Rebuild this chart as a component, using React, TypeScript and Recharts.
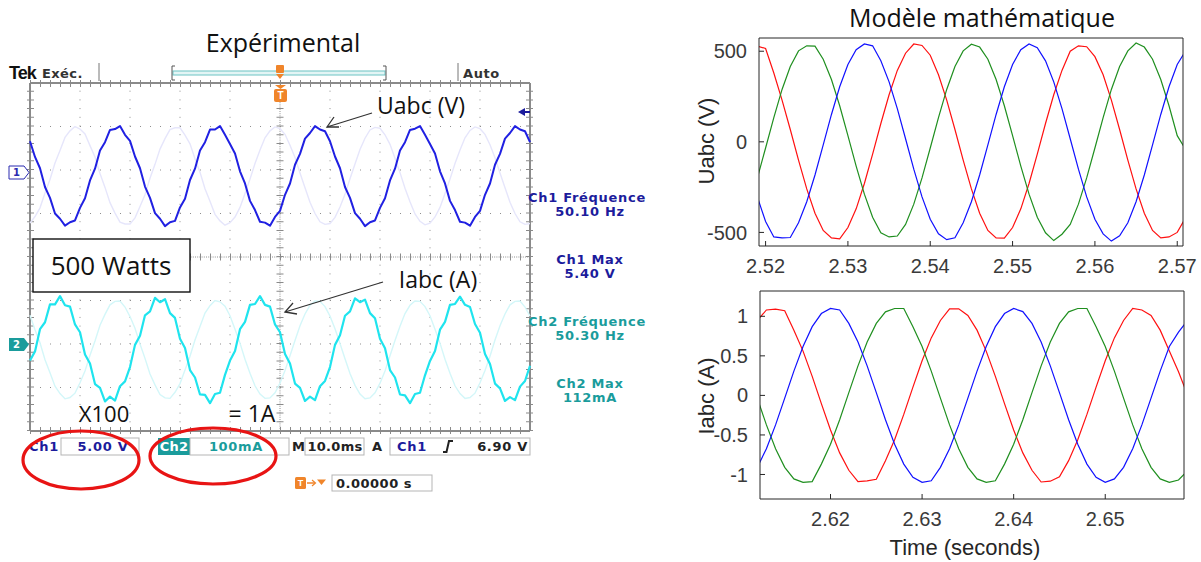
import React from 'react';
import { LineChart, Line, XAxis, YAxis, ReferenceLine } from 'recharts';

// ---------------- Oscilloscope (Expérimental) : 1 ms samples, values in screen divisions ----------------
const SCOPE_STEP_MS = 1;
const ch1Main = [
  2.66, 2.30, 2.04, 1.61, 1.36, 1.00, 0.88, 0.72, 0.80, 0.84, 1.13, 1.35, 1.76, 2.03, 2.45, 2.64, 2.92, 2.94, 3.01, 2.81,
  2.67, 2.31, 2.04, 1.62, 1.36, 1.01, 0.88, 0.71, 0.80, 0.83, 1.14, 1.34, 1.77, 2.03, 2.45, 2.64, 2.93, 2.93, 3.01, 2.81,
  2.60, 2.38, 1.97, 1.69, 1.29, 1.08, 0.81, 0.79, 0.72, 0.92, 1.06, 1.43, 1.69, 2.12, 2.37, 2.72, 2.85, 3.01, 2.93, 2.89,
  2.66, 2.31, 2.04, 1.61, 1.36, 1.01, 0.88, 0.71, 0.80, 0.84, 1.13, 1.35, 1.76, 2.03, 2.45, 2.64, 2.92, 2.95, 3.01, 2.81,
  2.60, 2.38, 1.97, 1.69, 1.29, 1.08, 0.81, 0.79, 0.72, 0.92, 1.06, 1.43, 1.69, 2.12, 2.37, 2.72, 2.85, 3.01, 2.93, 2.89,
  2.64,
];
const ch1Ghost = [
  0.78, 0.93, 1.13, 1.47, 1.78, 2.16, 2.45, 2.75, 2.90, 3.00, 2.94, 2.83, 2.56, 2.30, 1.92, 1.60, 1.25, 1.01, 0.80, 0.76,
  0.76, 0.90, 1.16, 1.43, 1.81, 2.13, 2.48, 2.72, 2.93, 2.97, 2.97, 2.80, 2.60, 2.26, 1.95, 1.57, 1.28, 0.98, 0.83, 0.73,
  0.79, 0.92, 1.14, 1.46, 1.79, 2.15, 2.46, 2.74, 2.90, 2.99, 2.95, 2.82, 2.57, 2.29, 1.93, 1.59, 1.26, 1.00, 0.81, 0.75,
  0.77, 0.91, 1.15, 1.44, 1.80, 2.14, 2.47, 2.73, 2.92, 2.98, 2.96, 2.81, 2.59, 2.27, 1.94, 1.58, 1.27, 0.99, 0.82, 0.74,
  0.78, 0.92, 1.14, 1.46, 1.79, 2.15, 2.46, 2.74, 2.91, 2.99, 2.95, 2.82, 2.58, 2.28, 1.93, 1.59, 1.26, 1.00, 0.81, 0.75,
  0.77,
];
const ch2Main = [
  -2.38, -2.17, -1.66, -1.50, -1.09, -1.09, -0.90, -1.11, -1.14, -1.55, -1.73, -2.24, -2.45, -2.92, -3.01, -3.32, -3.21, -3.30, -2.97, -2.86,
  -2.53, -2.02, -1.81, -1.34, -1.25, -0.94, -1.04, -0.97, -1.29, -1.40, -1.88, -2.09, -2.60, -2.77, -3.16, -3.17, -3.36, -3.15, -3.12, -2.71,
  -2.38, -2.16, -1.66, -1.49, -1.10, -1.08, -0.90, -1.10, -1.14, -1.55, -1.73, -2.23, -2.45, -2.91, -3.01, -3.31, -3.21, -3.29, -2.97, -2.85,
  -2.53, -2.02, -1.80, -1.35, -1.25, -0.95, -1.04, -0.98, -1.29, -1.41, -1.88, -2.10, -2.60, -2.77, -3.16, -3.18, -3.36, -3.15, -3.12, -2.72,
  -2.39, -2.16, -1.67, -1.49, -1.10, -1.08, -0.91, -1.10, -1.15, -1.54, -1.74, -2.23, -2.46, -2.91, -3.02, -3.31, -3.22, -3.29, -2.98, -2.85,
  -2.50,
];
const ch2Ghost = [
  -1.34, -1.67, -1.97, -2.36, -2.66, -2.97, -3.14, -3.26, -3.23, -3.13, -2.89, -2.62, -2.26, -1.93, -1.57, -1.32, -1.10, -1.02, -1.01, -1.15,
  -1.37, -1.64, -2.00, -2.33, -2.69, -2.94, -3.16, -3.24, -3.25, -3.11, -2.91, -2.60, -2.28, -1.91, -1.60, -1.29, -1.12, -1.00, -1.03, -1.13,
  -1.35, -1.66, -1.98, -2.35, -2.67, -2.96, -3.15, -3.25, -3.24, -3.12, -2.90, -2.61, -2.27, -1.92, -1.58, -1.31, -1.11, -1.01, -1.02, -1.14,
  -1.36, -1.65, -1.99, -2.34, -2.68, -2.95, -3.15, -3.26, -3.24, -3.12, -2.90, -2.62, -2.27, -1.92, -1.59, -1.30, -1.11, -1.01, -1.02, -1.14,
  -1.35, -1.66, -1.98, -2.35, -2.67, -2.96, -3.14, -3.25, -3.23, -3.13, -2.89, -2.61, -2.28, -1.91, -1.58, -1.31, -1.10, -1.02, -1.01, -1.15,
  -1.36,
];
const scopeGridX = [10, 20, 30, 40, 60, 70, 80, 90];
const scopeGridY = [-3, -2, -1, 1, 2, 3];

// ---------------- Modèle mathématique : 1 ms samples ----------------
const VOLT_T0 = 2.519;
const voltRed = [
  528, 515, 380, 230, 68, -101, -260, -394, -489, -530, -535, -473, -370, -230, -68, 101, 260, 394, 489, 540,
  532, 478, 370, 230, 68, -101, -260, -394, -489, -530, -532, -473, -370, -230, -68, 101, 260, 394, 500, 530,
  525, 470, 370, 230, 68, -101, -260, -394, -489, -530, -525, -500, -420,
];
const voltGreen = [
  -199, -34, 134, 289, 416, 502, 530, 528, 456, 344, 199, 34, -134, -289, -416, -502, -525, -520, -456, -344,
  -199, -34, 134, 289, 416, 502, 539, 523, 456, 344, 199, 34, -134, -289, -416, -502, -545, -510, -456, -344,
  -199, -34, 134, 289, 416, 502, 545, 523, 456, 344, 199, 34, -40,
];
const voltBlue = [
  -304, -440, -525, -530, -528, -447, -331, -183, -17, 151, 304, 427, 508, 540, 530, 447, 331, 183, 17, -151,
  -304, -427, -508, -540, -530, -447, -331, -183, -17, 151, 304, 427, 508, 540, 519, 447, 331, 183, 17, -151,
  -304, -427, -508, -548, -519, -447, -331, -183, -17, 151, 304, 427, 500,
];
const voltTicksX = [2.52, 2.53, 2.54, 2.55, 2.56, 2.57];
const voltTicksY = [-500, 0, 500];

const CURR_T0 = 2.612;
const currRed = [
  0.947, 1.08, 1.09, 1.07, 0.825, 0.56, 0.24, -0.104, -0.437, -0.727, -0.947, -1.09, -1.08, -1.06, -0.825, -0.56, -0.24, 0.104, 0.437, 0.727,
  0.947, 1.095, 1.095, 1.01, 0.825, 0.56, 0.24, -0.104, -0.437, -0.727, -0.947, -1.095, -1.085, -1.03, -0.825, -0.56, -0.24, 0.104, 0.437, 0.727,
  0.947, 1.1, 1.08, 1.01, 0.825, 0.56, 0.3, 0.0,
];
const currBlue = [
  -0.91, -0.674, -0.373, -0.035, 0.307, 0.618, 0.869, 1.035, 1.099, 1.08, 0.91, 0.674, 0.373, 0.035, -0.307, -0.618, -0.869, -1.035, -1.099, -1.08,
  -0.91, -0.674, -0.373, -0.035, 0.307, 0.618, 0.869, 1.035, 1.099, 1.06, 0.91, 0.674, 0.373, 0.035, -0.307, -0.618, -0.869, -1.035, -1.099, -1.056,
  -0.91, -0.674, -0.373, -0.035, 0.307, 0.618, 0.8, 0.95,
];
const currGreen = [
  -0.035, -0.373, -0.674, -0.91, -1.056, -1.099, -1.09, -0.869, -0.618, -0.307, 0.035, 0.373, 0.674, 0.91, 1.056, 1.099, 1.099, 0.869, 0.618, 0.307,
  -0.035, -0.373, -0.674, -0.91, -1.056, -1.099, -1.08, -0.869, -0.618, -0.307, 0.035, 0.373, 0.674, 0.91, 1.056, 1.099, 1.099, 0.869, 0.618, 0.307,
  -0.035, -0.373, -0.674, -0.91, -1.056, -1.099, -1.07, -0.95,
];
const currTicksX = [2.62, 2.63, 2.64, 2.65];
const currTicksY = [-1, -0.5, 0, 0.5, 1];

const scopeData = ch1Main.map((v, i) => ({
  t: i * SCOPE_STEP_MS,
  ch1: v,
  ch1g: ch1Ghost[i],
  ch2: ch2Main[i],
  ch2g: ch2Ghost[i],
}));
const voltData = voltRed.map((v, i) => ({
  t: +(VOLT_T0 + i * 0.001).toFixed(3),
  red: v,
  green: voltGreen[i],
  blue: voltBlue[i],
}));
const currData = currRed.map((v, i) => ({
  t: +(CURR_T0 + i * 0.001).toFixed(3),
  red: v,
  green: currGreen[i],
  blue: currBlue[i],
}));

const TEK_FONT = "'DejaVu Sans', Verdana, sans-serif";
const HUM_FONT = "'Open Sans', 'Noto Sans', sans-serif";
const ML_FONT = "'Liberation Sans', Arial, sans-serif";
const BLUE_TXT = '#1c1c9c';
const TEAL_TXT = '#1a9c9c';
const ORANGE = '#f0852a';

const ScopeChart = () => (
  <div style={{ position: 'absolute', left: 27, top: 80 }}>
    <LineChart width={506} height={354} data={scopeData} margin={{ top: 3, right: 3, bottom: 3, left: 3 }}>
      <XAxis dataKey="t" type="number" domain={[0, 100]} hide />
      <YAxis type="number" domain={[-4, 4]} hide />
      {scopeGridX.map((x) => (
        <ReferenceLine key={'gx' + x} x={x} stroke="#8f8f8f" strokeWidth={1} strokeDasharray="1 7.7" />
      ))}
      {scopeGridY.map((y) => (
        <ReferenceLine key={'gy' + y} y={y} stroke="#8f8f8f" strokeWidth={1} strokeDasharray="1 9" />
      ))}
      <ReferenceLine x={50} stroke="#909090" strokeWidth={1} strokeDasharray="1 1.2" />
      <ReferenceLine x={50} stroke="#8a8a8a" strokeWidth={7} strokeDasharray="1 7.7" />
      <ReferenceLine y={0} stroke="#909090" strokeWidth={1} strokeDasharray="1 1.2" />
      <ReferenceLine y={0} stroke="#8a8a8a" strokeWidth={7} strokeDasharray="1 9" />
      <ReferenceLine x={0} stroke="#8a8a8a" strokeWidth={8} strokeDasharray="1 7.7" />
      <ReferenceLine x={100} stroke="#8a8a8a" strokeWidth={8} strokeDasharray="1 7.7" />
      <ReferenceLine y={4} stroke="#8a8a8a" strokeWidth={8} strokeDasharray="1 9" />
      <ReferenceLine y={-4} stroke="#8a8a8a" strokeWidth={8} strokeDasharray="1 9" />
      <ReferenceLine x={0} stroke="#8a8a8a" strokeWidth={2} />
      <ReferenceLine x={100} stroke="#8a8a8a" strokeWidth={2} />
      <ReferenceLine y={4} stroke="#8a8a8a" strokeWidth={2} />
      <ReferenceLine y={-4} stroke="#8a8a8a" strokeWidth={2} />
      <Line dataKey="ch1g" stroke="#e6e6fb" strokeWidth={1.4} dot={false} isAnimationActive={false} type="linear" />
      <Line dataKey="ch2g" stroke="#d4f7f9" strokeWidth={1.4} dot={false} isAnimationActive={false} type="linear" />
      <Line dataKey="ch1" stroke="#2020e2" strokeWidth={2} dot={false} isAnimationActive={false} type="linear" strokeLinejoin="round" />
      <Line dataKey="ch2" stroke="#1fe4ee" strokeWidth={2.2} dot={false} isAnimationActive={false} type="linear" strokeLinejoin="round" />
    </LineChart>
  </div>
);

const tickStyle = { fill: '#3a3a3a', fontSize: 20, fontFamily: ML_FONT };

const ModelChart = ({ data, left, top, xDomain, yDomain, xTicks, yTicks, fmtX }) => (
  <div style={{ position: 'absolute', left, top }}>
    <LineChart width={501} height={239} data={data} margin={{ top: 0, right: 16, bottom: 0, left: 0 }}>
      <XAxis xAxisId="b" dataKey="t" type="number" domain={xDomain} allowDataOverflow ticks={xTicks}
        tickFormatter={fmtX} tickSize={-5} tickMargin={18} height={30} stroke="#262626" tick={tickStyle} interval={0} />
      <XAxis xAxisId="t" orientation="top" dataKey="t" type="number" domain={xDomain} allowDataOverflow ticks={xTicks}
        tick={false} tickSize={-5} height={1} stroke="#262626" interval={0} />
      <YAxis yAxisId="l" type="number" domain={yDomain} allowDataOverflow ticks={yTicks} width={60}
        tickSize={-5} tickMargin={17} stroke="#262626" tick={tickStyle} interval={0} />
      <YAxis yAxisId="r" orientation="right" type="number" domain={yDomain} allowDataOverflow ticks={yTicks} width={1}
        tick={false} tickSize={-5} stroke="#262626" interval={0} />
      <Line xAxisId="b" yAxisId="l" dataKey="red" stroke="#ff1010" strokeWidth={1.2} dot={false} isAnimationActive={false} type="linear" />
      <Line xAxisId="b" yAxisId="l" dataKey="green" stroke="#1f8f1f" strokeWidth={1.2} dot={false} isAnimationActive={false} type="linear" />
      <Line xAxisId="b" yAxisId="l" dataKey="blue" stroke="#1010ff" strokeWidth={1.2} dot={false} isAnimationActive={false} type="linear" />
    </LineChart>
  </div>
);

const T = ({ x, y, children, size = 13, fill = '#111', anchor = 'start', family = TEK_FONT, weight = 'bold', ls = 0.7 }) => (
  <text x={x} y={y} fontSize={size} fill={fill} textAnchor={anchor} fontFamily={family} fontWeight={weight}
    dominantBaseline="central" letterSpacing={ls}>{children}</text>
);

const Overlay = () => (
  <svg width={1201} height={562} style={{ position: 'absolute', left: 0, top: 0, pointerEvents: 'none' }}>
    {/* titles */}
    <T x={283} y={42} size={25} family={HUM_FONT} weight="normal" anchor="middle" ls={0}>Expérimental</T>
    <T x={982} y={17} size={25} family={HUM_FONT} weight="normal" anchor="middle" ls={0}>Modèle mathématique</T>

    {/* Tek header */}
    <T x={9} y={73} size={18} family={ML_FONT} weight="900" ls={-1}>Tek</T>
    <T x={42} y={73} size={13} fill="#333" ls={0.4}>Exéc.</T>
    <line x1={99} y1={63} x2={99} y2={81} stroke="#777" />
    <rect x={173} y={71} width={212} height={4} fill="#e3f5f5" stroke="#6cc4c4" strokeWidth={1} />
    <path d="M175 66 L172 66 L172 80 L175 80" stroke="#555" fill="none" />
    <path d="M383 66 L386 66 L386 80 L383 80" stroke="#555" fill="none" />
    <rect x={276} y={65} width={8} height={8} fill={ORANGE} rx={1} />
    <path d="M276 74 L284 74 L280 79 Z" fill={ORANGE} />
    <path d="M275 85 L286 85 L280.5 89 Z" fill={ORANGE} />
    <rect x={274} y={89} width={13} height={13} fill={ORANGE} rx={2} />
    <T x={280.5} y={95.5} size={10} fill="#fff" anchor="middle" family={ML_FONT} ls={0}>T</T>
    <line x1={458} y1={63} x2={458} y2={81} stroke="#777" />
    <T x={463} y={73} size={13} fill="#333" ls={0.6}>Auto</T>

    {/* channel markers */}
    <path d="M9 166 L24 166 L29 172.5 L24 179 L9 179 Z" fill="#fff" stroke="#2a2ab0" />
    <T x={16.5} y={172.5} size={10} fill="#2a2ab0" anchor="middle" ls={0}>1</T>
    <path d="M9 338 L24 338 L29 344.5 L24 351 L9 351 Z" fill="#1a9c9c" />
    <T x={16.5} y={344.5} size={10} fill="#fff" anchor="middle" ls={0}>2</T>
    <path d="M518 112 L525 108 L525 116 Z" fill="#1c1c9c" />
    <line x1={524} y1={112} x2={530} y2={112} stroke="#1c1c9c" strokeWidth={2} />

    {/* measurements */}
    <T x={587} y={197} fill={BLUE_TXT} anchor="middle">Ch1 Fréquence</T>
    <T x={590} y={211} fill={BLUE_TXT} anchor="middle">50.10 Hz</T>
    <T x={590} y={259} fill={BLUE_TXT} anchor="middle">Ch1 Max</T>
    <T x={590} y={273} fill={BLUE_TXT} anchor="middle">5.40 V</T>
    <T x={587} y={321} fill={TEAL_TXT} anchor="middle">Ch2 Fréquence</T>
    <T x={590} y={335} fill={TEAL_TXT} anchor="middle">50.30 Hz</T>
    <T x={590} y={383} fill={TEAL_TXT} anchor="middle">Ch2 Max</T>
    <T x={590} y={397} fill={TEAL_TXT} anchor="middle">112mA</T>

    {/* status bar */}
    <T x={29} y={446} fill={BLUE_TXT}>Ch1</T>
    <rect x={61} y={438} width={78} height={17} fill="none" stroke="#b5b5b5" />
    <T x={103} y={446} fill={BLUE_TXT} anchor="middle">5.00 V</T>
    <rect x={158} y={438} width={32} height={17} fill="#1a9c9c" />
    <T x={174} y={446} fill="#fff" anchor="middle" ls={0.3}>Ch2</T>
    <rect x={190} y={438} width={99} height={17} fill="none" stroke="#b5b5b5" />
    <T x={236} y={446} fill={TEAL_TXT} anchor="middle">100mA</T>
    <T x={292} y={446} fill="#222" ls={0}>M</T>
    <rect x={305} y={438} width={59} height={17} fill="none" stroke="#b5b5b5" />
    <T x={335} y={446} fill="#222" anchor="middle" ls={0.3}>10.0ms</T>
    <T x={372} y={446} fill="#222" ls={0}>A</T>
    <rect x={390} y={438} width={140} height={17} fill="none" stroke="#b5b5b5" />
    <T x={397} y={446} fill={BLUE_TXT}>Ch1</T>
    <path d="M443 452 L446.5 452 L449 441 L453 441" stroke="#222" strokeWidth={2} fill="none" />
    <T x={528} y={446} fill="#222" anchor="end">6.90 V</T>

    <rect x={295} y={477} width={11} height={12} fill={ORANGE} rx={1.5} />
    <T x={300.5} y={483} size={9} fill="#fff" anchor="middle" family={ML_FONT} ls={0}>T</T>
    <line x1={307} y1={483} x2={315} y2={483} stroke={ORANGE} strokeWidth={1.5} />
    <path d="M312 480 L315.5 483 L312 486" stroke={ORANGE} fill="none" strokeWidth={1.2} />
    <path d="M317 479.5 L326 479.5 L321.5 485 Z" fill={ORANGE} />
    <rect x={332} y={475} width={100} height={16} fill="none" stroke="#b5b5b5" />
    <T x={336} y={483} fill="#222" ls={0.5}>0.00000 s</T>

    {/* red ellipses */}
    <ellipse cx={81} cy={460} rx={58} ry={29} fill="none" stroke="#e81414" strokeWidth={3.2} />
    <ellipse cx={213} cy={456} rx={63} ry={28} fill="none" stroke="#e81414" strokeWidth={3.2} />

    {/* annotations */}
    <rect x={33} y={239} width={157} height={53} fill="#fff" stroke="#111" strokeWidth={1.4} />
    <T x={111} y={265} size={26} family={HUM_FONT} weight="normal" anchor="middle" ls={0}>500 Watts</T>
    <T x={104} y={413} size={22} family={HUM_FONT} weight="normal" anchor="middle" ls={0}>X100</T>
    <T x={252} y={413} size={23} family={HUM_FONT} weight="normal" anchor="middle" ls={0}>= 1A</T>
    <T x={421} y={105} size={23} family={HUM_FONT} weight="normal" anchor="middle" ls={0}>Uabc (V)</T>
    <line x1={372} y1={113} x2={327} y2={127} stroke="#333" strokeWidth={1.3} />
    <path d="M339 127 L327 127 L334 117" stroke="#333" strokeWidth={1.3} fill="none" />
    <T x={438} y={279} size={23} family={HUM_FONT} weight="normal" anchor="middle" ls={0}>Iabc (A)</T>
    <line x1={383} y1={282} x2={285} y2={312} stroke="#333" strokeWidth={1.3} />
    <path d="M297 314 L285 312 L293 303" stroke="#333" strokeWidth={1.3} fill="none" />

    {/* MATLAB axis labels */}
    <text x={706} y={141} fontSize={22} fill="#262626" fontFamily={ML_FONT} textAnchor="middle"
      dominantBaseline="central" transform="rotate(-90 706 141)">Uabc (V)</text>
    <text x={706} y={396} fontSize={22} fill="#262626" fontFamily={ML_FONT} textAnchor="middle"
      dominantBaseline="central" transform="rotate(-90 706 396)">Iabc (A)</text>
    <text x={965} y={547} fontSize={22} fill="#262626" fontFamily={ML_FONT} textAnchor="middle"
      dominantBaseline="central">Time (seconds)</text>
  </svg>
);

export default function App() {
  return (
    <div style={{ position: 'absolute', left: 0, top: 0, width: 1201, height: 562, background: '#fff', overflow: 'hidden' }}>
      <ScopeChart />
      <ModelChart data={voltData} left={699} top={37} xDomain={[2.5192, 2.5707]} yDomain={[-575, 573]}
        xTicks={voltTicksX} yTicks={voltTicksY} fmtX={(v) => v.toFixed(2)} />
      <ModelChart data={currData} left={700} top={290} xDomain={[2.6123, 2.6586]} yDomain={[-1.31, 1.32]}
        xTicks={currTicksX} yTicks={currTicksY} fmtX={(v) => v.toFixed(2)} />
      <Overlay />
    </div>
  );
}
